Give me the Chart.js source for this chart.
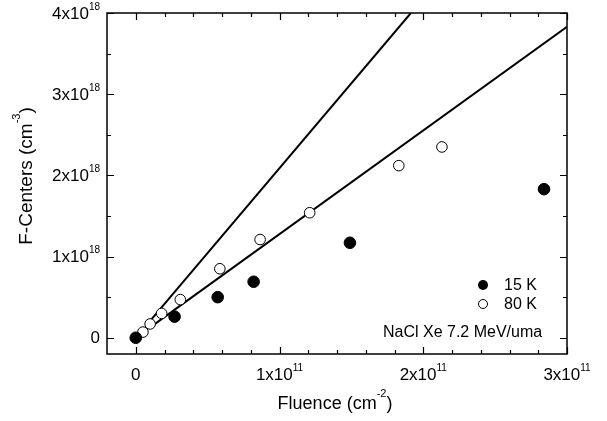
<!DOCTYPE html>
<html>
<head>
<meta charset="utf-8">
<script src="https://cdn.jsdelivr.net/npm/chart.js@4"></script>
<style>
  body { margin: 0; background: #fff; }
  canvas { display: block; }
</style>
</head>
<body>
<canvas id="myChart" width="607" height="421"></canvas>
<script>
// data (fluence in cm^-2, F-centers in cm^-3)
const fluence15 = [0, 0.27e11, 0.57e11, 0.82e11, 1.49e11, 2.84e11];
const centers15 = [0, 0.26e18, 0.50e18, 0.69e18, 1.17e18, 1.83e18];

const fluence80 = [0.05e11, 0.10e11, 0.18e11, 0.31e11, 0.585e11, 0.865e11, 1.21e11, 1.83e11, 2.13e11];
const centers80 = [0.07e18, 0.17e18, 0.30e18, 0.47e18, 0.85e18, 1.21e18, 1.54e18, 2.12e18, 2.35e18];

// two straight fit lines
const fitX1 = [0.1e11, 1.914e11];
const fitY1 = [0.209e18, 4.0e18];
const fitX2 = [0.1e11, 3.0e11];
const fitY2 = [0.128e18, 3.83e18];

const xTicks = [0, 1e11, 2e11, 3e11];
const xTickExp = [null, 11, 11, 11];
const yTicks = [0, 1e18, 2e18, 3e18, 4e18];
const yTickExp = [null, 18, 18, 18, 18];

const seriesLabels = ['15 K', '80 K'];
const note = 'NaCl Xe 7.2 MeV/uma';

function pts(xs, ys) {
  return xs.map((x, i) => ({ x: x, y: ys[i] }));
}

const FONT = '"Liberation Sans", Arial, sans-serif';

// draws "Nx10^e" or plain "0"
function sciLabel(ctx, value, exp, x, y, align) {
  let mant = exp == null ? String(value) : String(Math.round(value / Math.pow(10, exp))) + 'x10';
  let sup = exp == null ? '' : String(exp);
  ctx.font = '17px ' + FONT;
  let w1 = ctx.measureText(mant).width;
  ctx.font = '10px ' + FONT;
  let w2 = sup ? ctx.measureText(sup).width : 0;
  let total = w1 + w2;
  let left = align === 'right' ? x - total : x - total / 2;
  ctx.textAlign = 'left';
  ctx.textBaseline = 'middle';
  ctx.font = '17px ' + FONT;
  ctx.fillText(mant, left, y);
  if (sup) {
    ctx.font = '10px ' + FONT;
    ctx.fillText(sup, left + w1, y - 7);
  }
}

// text with a superscript piece in the middle, centred on 0,0
function titleSup(ctx, size, a, sup, b, x, y) {
  ctx.font = size + 'px ' + FONT;
  let w1 = ctx.measureText(a).width;
  let w3 = ctx.measureText(b).width;
  ctx.font = '11px ' + FONT;
  let ws = ctx.measureText(sup).width;
  let left = x - (w1 + ws + w3) / 2;
  ctx.textAlign = 'left';
  ctx.textBaseline = 'middle';
  ctx.font = size + 'px ' + FONT;
  ctx.fillText(a, left, y);
  ctx.fillText(b, left + w1 + ws, y);
  ctx.font = '11px ' + FONT;
  ctx.fillText(sup, left + w1, y - 10);
}

const framePlugin = {
  id: 'frame',
  afterDraw(chart) {
    const ctx = chart.ctx;
    const a = chart.chartArea;
    const xs = chart.scales.x, ys = chart.scales.y;
    ctx.save();
    ctx.strokeStyle = '#000';
    ctx.fillStyle = '#000';
    ctx.lineWidth = 1.5;
    ctx.strokeRect(a.left, a.top, a.right - a.left, a.bottom - a.top);

    ctx.lineWidth = 1.2;
    // x ticks (inward, top and bottom)
    for (let v = 0; v <= 3e11 + 1; v += 0.2e11) {
      let px = Math.round(xs.getPixelForValue(v)) + 0.5;
      let major = Math.abs(v / 1e11 - Math.round(v / 1e11)) < 1e-6;
      let len = major ? 7 : 4;
      ctx.beginPath();
      ctx.moveTo(px, a.bottom); ctx.lineTo(px, a.bottom - len);
      ctx.moveTo(px, a.top); ctx.lineTo(px, a.top + len);
      ctx.stroke();
    }
    // y ticks
    for (let v = 0; v <= 4e18 + 1; v += 0.5e18) {
      let py = Math.round(ys.getPixelForValue(v)) + 0.5;
      let major = Math.abs(v / 1e18 - Math.round(v / 1e18)) < 1e-6;
      let len = major ? 7 : 4;
      ctx.beginPath();
      ctx.moveTo(a.left, py); ctx.lineTo(a.left + len, py);
      ctx.moveTo(a.right, py); ctx.lineTo(a.right - len, py);
      ctx.stroke();
    }

    // tick labels
    xTicks.forEach((v, i) => sciLabel(ctx, v, xTickExp[i], xs.getPixelForValue(v), 375, 'center'));
    yTicks.forEach((v, i) => sciLabel(ctx, v, yTickExp[i], 100, ys.getPixelForValue(v) + 1, 'right'));

    // axis titles
    titleSup(ctx, 18, 'Fluence (cm', '-2', ')', 335, 404);
    ctx.save();
    ctx.translate(27, 176);
    ctx.rotate(-Math.PI / 2);
    titleSup(ctx, 19, 'F-Centers (cm', '-3', ')', 0, 0);
    ctx.restore();

    // legend
    ctx.lineWidth = 1;
    ctx.beginPath();
    ctx.arc(483, 285, 5, 0, Math.PI * 2);
    ctx.fill();
    ctx.beginPath();
    ctx.arc(483, 304, 4.5, 0, Math.PI * 2);
    ctx.fillStyle = '#fff';
    ctx.fill();
    ctx.stroke();
    ctx.fillStyle = '#000';
    ctx.font = '16px ' + FONT;
    ctx.textAlign = 'left';
    ctx.textBaseline = 'middle';
    ctx.fillText(seriesLabels[0], 504, 286);
    ctx.fillText(seriesLabels[1], 504, 305);
    ctx.fillText(note, 383, 333);
    ctx.restore();
  }
};

new Chart(document.getElementById('myChart'), {
  type: 'scatter',
  data: {
    datasets: [
      {
        label: seriesLabels[0],
        data: pts(fluence15, centers15),
        backgroundColor: '#000',
        borderColor: '#000',
        pointRadius: 5.8,
        order: 0
      },
      {
        label: seriesLabels[1],
        data: pts(fluence80, centers80),
        backgroundColor: '#fff',
        borderColor: '#000',
        borderWidth: 1,
        pointRadius: 5.3,
        order: 0
      },
      {
        label: 'fit 1',
        data: pts(fitX1, fitY1),
        showLine: true,
        borderColor: '#000',
        borderWidth: 2,
        pointRadius: 0,
        order: 1
      },
      {
        label: 'fit 2',
        data: pts(fitX2, fitY2),
        showLine: true,
        borderColor: '#000',
        borderWidth: 2,
        pointRadius: 0,
        order: 1
      }
    ]
  },
  options: {
    responsive: false,
    animation: false,
    devicePixelRatio: 1,
    layout: { padding: { left: 107, top: 13, right: 40, bottom: 67 } },
    plugins: { legend: { display: false }, tooltip: { enabled: false } },
    scales: {
      x: { type: 'linear', min: -0.2e11, max: 3e11, display: false },
      y: { type: 'linear', min: -0.2e18, max: 4e18, display: false }
    }
  },
  plugins: [framePlugin]
});
</script>
</body>
</html>
